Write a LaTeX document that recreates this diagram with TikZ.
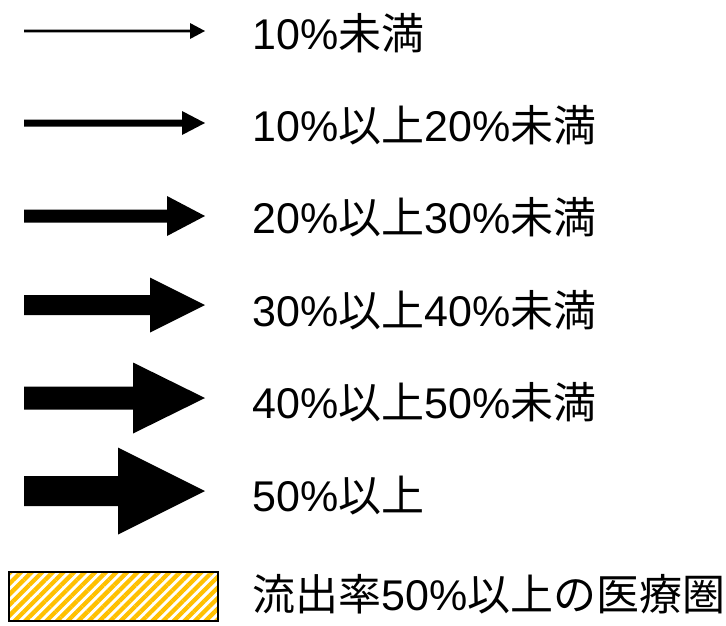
\documentclass[tikz,border=0pt]{standalone}
\usepackage{fontspec}
\setmainfont{Liberation Sans}
\newfontfamily\cjk{Noto Sans CJK JP}
\usetikzlibrary{patterns.meta}
\definecolor{hatchyellow}{RGB}{255,192,0}
\tikzset{
  legtext/.style={anchor=base west,inner sep=0pt,font=\fontsize{43}{50}\selectfont},
  legarrow/.style={fill=black,draw=none},
  hatchbox/.style={draw=black,line width=1.5pt,
    pattern={Lines[angle=45,distance=7.5pt,line width=4.3pt]},pattern color=hatchyellow}
}
\begin{document}
\begin{tikzpicture}[x=1pt,y=-1pt]
\useasboundingbox (0,0) rectangle (726,625);
% arrows: centre y / half shaft / head start x / head half height
\foreach \cy/\t/\hx/\h [count=\i] in {31/1.3/190/8, 123/3.5/182/12, 216/6.5/167/20, 305/10/150/27.5, 398/11.5/133/35.5, 491/15/118/43.5}{
  \fill[legarrow] (24,\cy-\t) -- (\hx,\cy-\t) -- (\hx,\cy-\h) -- (205,\cy) -- (\hx,\cy+\h) -- (\hx,\cy+\t) -- (24,\cy+\t) -- cycle;
}
\node[legtext] (t1) at (252,49) {10\%{\cjk 未満}};
\node[legtext] (t2) at (252,141.4) {10\%{\cjk 以上}20\%{\cjk 未満}};
\node[legtext] (t3) at (252,233.8) {20\%{\cjk 以上}30\%{\cjk 未満}};
\node[legtext] (t4) at (252,326.2) {30\%{\cjk 以上}40\%{\cjk 未満}};
\node[legtext] (t5) at (252,418.6) {40\%{\cjk 以上}50\%{\cjk 未満}};
\node[legtext] (t6) at (252,511) {50\%{\cjk 以上}};
\draw[hatchbox] (9,572) rectangle (218,621);
\node[legtext] (t7) at (252,610) {{\cjk 流出率}50\%{\cjk 以上の医療圏}};
\end{tikzpicture}
\end{document}
